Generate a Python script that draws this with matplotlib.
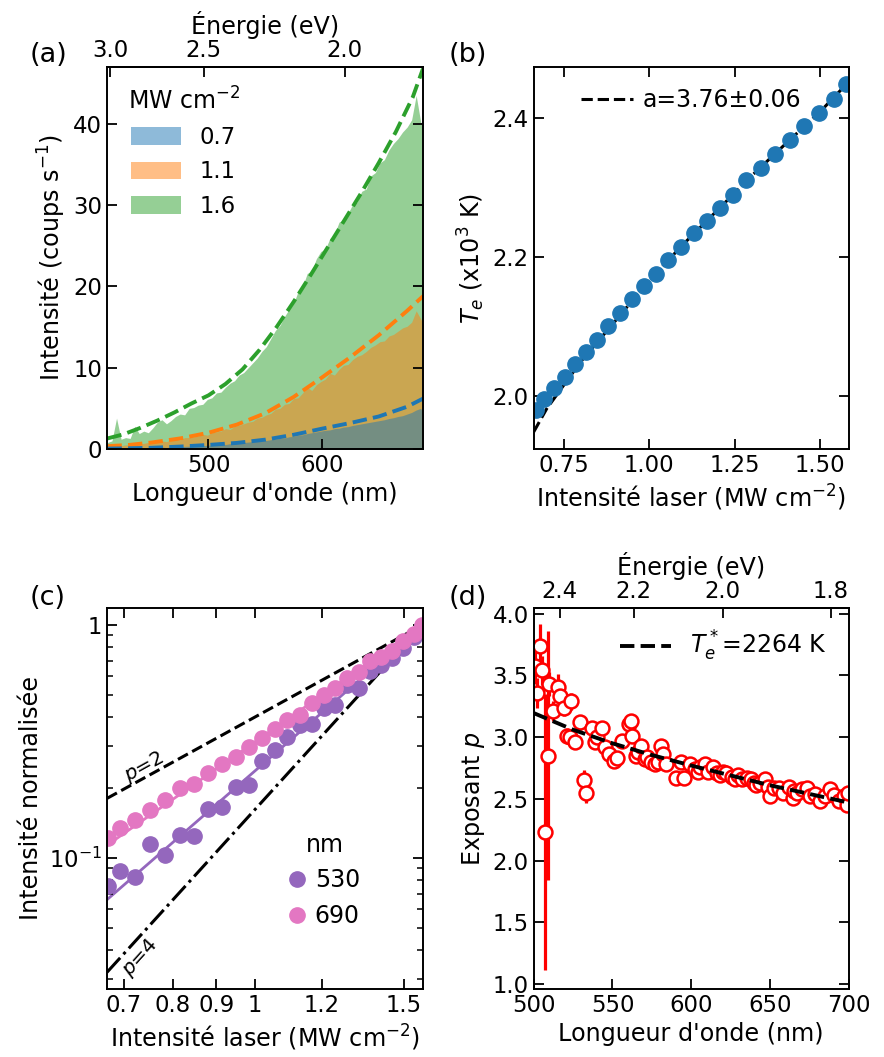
import numpy as np
import matplotlib
matplotlib.use('Agg')
import matplotlib.pyplot as plt
from matplotlib.ticker import NullLocator, NullFormatter, LogLocator, FixedLocator, FixedFormatter
from matplotlib.patches import Patch

plt.rcParams.update({
    'font.family': ['DejaVu Sans'],
    'font.size': 17.2,
    'xtick.labelsize': 16.4, 'ytick.labelsize': 16.4,
    'legend.fontsize': 17,
    'axes.linewidth': 1.4,
    'xtick.direction': 'in', 'ytick.direction': 'in',
    'xtick.major.size': 7, 'ytick.major.size': 7,
    'xtick.major.width': 1.3, 'ytick.major.width': 1.3,
    'xtick.minor.size': 4.5, 'ytick.minor.size': 4.5,
    'xtick.minor.width': 1.1, 'ytick.minor.width': 1.1,
    'legend.frameon': False,
})

HC = 1239.84  # eV nm

# ---------------- (a) spectra ----------------
wl_spec = [411, 415, 419, 423, 427, 431, 435, 439, 443, 447, 451, 455, 459, 463, 467,
           471, 475, 479, 483, 487, 491, 495, 499, 503, 507, 511, 515, 519, 523, 527,
           531, 535, 539, 543, 547, 551, 555, 559, 563, 567, 571, 575, 579, 583, 587,
           591, 595, 599, 603, 607, 611, 615, 619, 623, 627, 631, 635, 639, 643, 647,
           651, 655, 659, 663, 667, 671, 675, 679, 683, 687, 689]
spec_16 = [0.8, 1.0, 3.8, 1.2, 1.4, 1.3, 2.8, 1.9, 2.2, 2.0, 2.6, 3.3, 3.6, 3.1, 3.5,
           4.0, 4.3, 4.2, 5.0, 5.1, 5.4, 5.5, 6.1, 6.3, 6.9, 7.0, 7.6, 8.1, 8.4, 9.1,
           9.4, 10.0, 10.6, 11.2, 12.0, 12.6, 13.6, 14.6, 15.2, 16.3, 17.2, 17.9, 19.4, 20.0, 21.6,
           21.9, 23.4, 24.3, 24.6, 25.9, 26.4, 27.9, 28.2, 29.0, 30.1, 30.4, 31.7, 32.0, 33.6, 34.0,
           35.2, 35.6, 36.8, 37.6, 38.2, 39.0, 39.6, 40.5, 43.5, 40.2, 40.0]
spec_11 = [0.3, 0.4, 0.6, 0.4, 0.5, 0.5, 0.8, 0.6, 0.7, 0.8, 0.7, 0.9, 1.0, 0.9, 1.1,
           1.2, 1.1, 1.4, 1.4, 1.5, 1.6, 1.8, 1.7, 2.0, 2.1, 2.2, 2.5, 2.4, 2.8, 2.9,
           3.1, 3.3, 3.4, 3.8, 3.9, 4.2, 4.4, 4.9, 5.0, 5.5, 5.6, 6.2, 6.3, 6.9, 7.6,
           7.2, 7.9, 8.3, 8.6, 9.3, 9.1, 9.8, 10.3, 10.4, 11.0, 11.4, 11.6, 12.0, 12.5, 12.8,
           13.2, 13.3, 13.9, 14.1, 14.5, 14.9, 15.1, 15.6, 17.0, 16.0, 15.5]
spec_07 = [0.05, 0.08, 0.1, 0.06, 0.1, 0.12, 0.1, 0.15, 0.12, 0.18, 0.15, 0.2, 0.22, 0.18, 0.25,
           0.28, 0.25, 0.32, 0.35, 0.3, 0.4, 0.42, 0.45, 0.5, 0.48, 0.6, 0.55, 0.65, 0.7, 0.68,
           0.8, 0.85, 0.9, 0.95, 1.0, 1.05, 1.15, 1.2, 1.3, 1.35, 1.5, 1.55, 1.7, 1.75, 1.9,
           2.0, 2.1, 2.2, 2.3, 2.35, 2.5, 2.55, 2.7, 2.75, 2.9, 3.0, 3.1, 3.2, 3.3, 3.4,
           3.5, 3.6, 3.75, 3.85, 4.0, 4.1, 4.3, 4.5, 4.8, 5.0, 4.4]

wl_fit16 = [411, 425, 440, 455, 470, 485, 500, 515, 530, 545, 560, 575, 590, 605, 620, 635, 650, 665, 680, 689]
fit_16 = [1.3, 1.8, 2.6, 3.5, 4.5, 5.6, 6.6, 8.0, 9.8, 12.2, 15.0, 18.1, 21.4, 24.8, 28.2, 31.6, 35.2, 39.0, 43.3, 46.8]
wl_fit = [411, 430, 450, 475, 500, 525, 550, 575, 600, 625, 650, 675, 689]
fit_11 = [0.35, 0.5, 0.8, 1.3, 2.0, 3.0, 4.4, 6.4, 8.8, 11.3, 14.0, 17.0, 18.8]
fit_07 = [0.05, 0.09, 0.15, 0.3, 0.5, 0.75, 1.15, 1.75, 2.5, 3.2, 4.0, 5.2, 6.2]
power_labels = ['0.7', '1.1', '1.6']

# ---------------- (b) electron temperature ----------------
I_laser = [0.670, 0.6935, 0.7227, 0.7529, 0.7841, 0.8153, 0.8474, 0.8805, 0.9136, 0.9487,
           0.9838, 1.0188, 1.0558, 1.0919, 1.1308, 1.1688, 1.2068, 1.2448, 1.2837, 1.3256,
           1.3665, 1.4103, 1.4532, 1.4961, 1.5389, 1.5750]
T_e = [1.980, 1.9966, 2.012, 2.0278, 2.0461, 2.0639, 2.0816, 2.1013, 2.1205, 2.1402,
       2.1589, 2.1762, 2.1964, 2.2151, 2.2343, 2.2525, 2.2717, 2.2904, 2.3106, 2.3288,
       2.3494, 2.3686, 2.3888, 2.4080, 2.4286, 2.4493]
I_fit = [0.662, 0.70, 0.75, 0.80, 0.90, 1.00, 1.10, 1.20, 1.30, 1.40, 1.50, 1.583]
T_fit = [1.9486, 1.982, 2.016, 2.050, 2.108, 2.1669, 2.2191, 2.2682, 2.3177, 2.3641, 2.4099, 2.4527]

# ---------------- (c) normalised intensity ----------------
norm_530 = [0.0758, 0.0873, 0.0823, 0.1149, 0.1030, 0.1255, 0.1235, 0.1622, 0.1644, 0.201,
            0.2056, 0.2588, 0.291, 0.330, 0.370, 0.375, 0.439, 0.454, 0.550, 0.535,
            0.631, 0.673, 0.719, 0.794, 0.883, 0.985]
norm_690 = [0.1214, 0.134, 0.1455, 0.1596, 0.1773, 0.199, 0.208, 0.2309, 0.2522, 0.2697,
            0.2975, 0.3266, 0.3566, 0.391, 0.411, 0.461, 0.497, 0.535, 0.590, 0.627,
            0.701, 0.724, 0.774, 0.854, 0.912, 1.0]
I_ends = [0.669, 1.579]
fitline_530 = [0.066, 1.0]
fitline_690 = [0.113, 1.0]
ref_p2 = [0.1796, 1.0]
ref_p4 = [0.0322, 1.0]

# ---------------- (d) exponent p ----------------
wl_p = [501.0, 502.0, 503.8, 505.3, 507.0, 508.8, 509.5, 512.3, 515.2, 516.9, 519.0, 521.2,
        523.3, 523.7, 526.5, 529.6, 531.7, 533.4, 537.0, 539.0, 540.2, 543.4, 545.5, 547.6,
        550.8, 553.0, 556.0, 560.5, 561.8, 562.4, 565.2, 566.0, 568.4, 570.5, 572.0, 574.7,
        576.9, 579.0, 581.1, 582.2, 584.2, 590.5, 593.5, 595.5, 599.5, 602.2, 604.0, 605.4,
        608.6, 610.7, 613.9, 616.4, 618.2, 620.0, 622.4, 625.6, 627.7, 629.5, 632.3, 635.4,
        638.2, 640.0, 641.2, 643.9, 646.7, 648.5, 650.3, 652.4, 655.6, 658.1, 661.9, 664.4,
        665.5, 667.2, 670.4, 673.5, 675.7, 678.8, 682.0, 685.2, 687.9, 690.5, 693.7, 696.8,
        698.9, 699.6]
p_exp = [3.58, 3.36, 3.74, 3.54, 2.23, 2.85, 3.43, 3.21, 3.41, 3.33, 3.24, 3.01,
         3.00, 3.29, 2.96, 3.12, 2.65, 2.55, 3.07, 2.96, 3.00, 3.07, 2.92, 2.86,
         2.81, 2.83, 2.97, 3.11, 3.13, 3.01, 2.85, 2.88, 2.93, 2.82, 2.84, 2.80,
         2.78, 2.80, 2.93, 2.86, 2.78, 2.67, 2.80, 2.67, 2.78, 2.74, 2.72, 2.76,
         2.78, 2.72, 2.76, 2.71, 2.69, 2.72, 2.71, 2.68, 2.66, 2.69, 2.66, 2.67,
         2.66, 2.63, 2.61, 2.63, 2.66, 2.60, 2.52, 2.59, 2.59, 2.55, 2.60, 2.51,
         2.56, 2.55, 2.58, 2.59, 2.52, 2.54, 2.48, 2.52, 2.58, 2.53, 2.48, 2.52,
         2.45, 2.55]
p_err = [0.15, 0.12, 0.18, 0.12, 1.12, 1.01, 0.10, 0.08, 0.10, 0.08, 0.07, 0.06,
         0.06, 0.07, 0.06, 0.06, 0.08, 0.08, 0.05, 0.05, 0.05, 0.05, 0.05, 0.05,
         0.05, 0.05, 0.05, 0.05, 0.05, 0.05, 0.04, 0.04, 0.04, 0.04, 0.04, 0.04,
         0.04, 0.04, 0.04, 0.04, 0.04, 0.04, 0.04, 0.04, 0.04, 0.03, 0.03, 0.03,
         0.03, 0.03, 0.03, 0.03, 0.03, 0.03, 0.03, 0.03, 0.03, 0.03, 0.03, 0.03,
         0.03, 0.03, 0.03, 0.03, 0.03, 0.03, 0.03, 0.03, 0.03, 0.03, 0.03, 0.03,
         0.03, 0.03, 0.03, 0.03, 0.03, 0.03, 0.03, 0.03, 0.03, 0.03, 0.03, 0.03,
         0.03, 0.03]
wl_theo = [500, 525, 550, 575, 600, 625, 650, 675, 700]
p_theo = [3.195, 3.06, 2.95, 2.855, 2.77, 2.69, 2.61, 2.54, 2.47]


def wl2ev(x):
    x = np.asarray(x, dtype=float)
    with np.errstate(divide='ignore', invalid='ignore'):
        return HC / x


fig = plt.figure(figsize=(8.84, 10.57), dpi=100)
W, H = 884.0, 1057.0
ax_a = fig.add_axes([107 / W, 1 - 449 / H, 316 / W, 382 / H])
ax_b = fig.add_axes([533.7 / W, 1 - 449 / H, 315 / W, 382 / H])
ax_c = fig.add_axes([107 / W, 1 - 989 / H, 316 / W, 381 / H])
ax_d = fig.add_axes([533.7 / W, 1 - 989 / H, 315 / W, 381 / H])

c_blue, c_orange, c_green = '#1f77b4', '#ff7f0e', '#2ca02c'

# (a)
ax = ax_a
ax.fill_between(wl_spec, 0, spec_16, color=c_green, alpha=0.5, lw=0)
ax.fill_between(wl_spec, 0, spec_11, color=c_orange, alpha=0.5, lw=0)
ax.fill_between(wl_spec, 0, spec_07, color=c_blue, alpha=0.5, lw=0)
ax.plot(wl_fit16, fit_16, '--', color=c_green, lw=2.8)
ax.plot(wl_fit, fit_11, '--', color=c_orange, lw=2.8)
ax.plot(wl_fit, fit_07, '--', color=c_blue, lw=2.8)
ax.set_xlim(410.6, 689)
ax.set_ylim(0, 47)
ax.set_xticks([500, 600])
ax.set_yticks([0, 10, 20, 30, 40])
ax.tick_params(top=False, right=True)
ax.set_xlabel("Longueur d'onde (nm)")
ax.set_ylabel('Intensité (coups s$^{-1}$)')
handles = [Patch(facecolor=c, alpha=0.5, edgecolor='none', label=l)
           for c, l in zip([c_blue, c_orange, c_green], power_labels)]
ax.legend(handles=handles, title='MW cm$^{-2}$', loc='upper left', fontsize=16.4,
          title_fontsize=17, handlelength=2.2, handleheight=0.8)
sec = ax.secondary_xaxis('top', functions=(wl2ev, wl2ev))
sec.set_xticks([3.0, 2.5, 2.0])
sec.set_xticklabels(['3.0', '2.5', '2.0'])
sec.xaxis.set_minor_locator(NullLocator())
sec.tick_params(direction='in', length=7, width=1.3)
sec.set_xlabel('Énergie (eV)')

# (b)
ax = ax_b
ax.plot(I_fit, T_fit, '--', color='k', lw=2.2, label='a=3.76±0.06', zorder=1)
ax.plot(I_laser, T_e, 'o', color=c_blue, ms=11, zorder=2)
ax.set_xlim(0.662, 1.583)
ax.set_ylim(1.924, 2.474)
ax.set_xticks([0.75, 1.00, 1.25, 1.50])
ax.set_xticklabels(['0.75', '1.00', '1.25', '1.50'])
ax.set_yticks([2.0, 2.2, 2.4])
ax.set_yticklabels(['2.0', '2.2', '2.4'])
ax.tick_params(top=True, right=True)
ax.set_xlabel('Intensité laser (MW cm$^{-2}$)')
ax.set_ylabel('$T_e$ (x10$^3$ K)')
ax.legend(loc='upper center', handlelength=2.2, handletextpad=0.4)

# (c)
ax = ax_c
ax.set_xscale('log')
ax.set_yscale('log')
ax.plot(I_ends, ref_p2, '--', color='k', lw=2.2, zorder=1)
ax.plot(I_ends, ref_p4, '-.', color='k', lw=2.2, zorder=1)
ax.plot(I_ends, fitline_530, '-', color='#9467bd', lw=2, zorder=1)
ax.plot(I_ends, fitline_690, '-', color='#e377c2', lw=2, zorder=1)
l530, = ax.plot(I_laser, norm_530, 'o', color='#9467bd', ms=11, zorder=2, label='530')
l690, = ax.plot(I_laser, norm_690, 'o', color='#e377c2', ms=11, zorder=2, label='690')
ax.set_xlim(0.669, 1.579)
ax.set_ylim(0.0273, 1.179)
ax.xaxis.set_major_locator(FixedLocator([0.7, 0.8, 0.9, 1.0, 1.2, 1.5]))
ax.xaxis.set_major_formatter(FixedFormatter(['0.7', '0.8', '0.9', '1', '1.2', '1.5']))
ax.xaxis.set_minor_locator(NullLocator())
ax.xaxis.set_minor_formatter(NullFormatter())
ax.yaxis.set_major_locator(FixedLocator([0.1, 1.0]))
ax.yaxis.set_major_formatter(FixedFormatter(['$10^{-1}$', '1']))
ax.yaxis.set_minor_locator(LogLocator(base=10, subs=np.arange(2, 10)))
ax.yaxis.set_minor_formatter(NullFormatter())
ax.tick_params(which='both', top=True, right=True)
ax.set_xlabel('Intensité laser (MW cm$^{-2}$)')
ax.set_ylabel('Intensité normalisée')
ax.text(0.740, 0.246, '$p$=2', rotation=29, ha='center', va='center', fontsize=14.5,
        rotation_mode='anchor')
ax.text(0.733, 0.0372, '$p$=4', rotation=48, ha='center', va='center', fontsize=14.5,
        rotation_mode='anchor')
ax.legend(handles=[l530, l690], title='nm', loc='center', bbox_to_anchor=(0.69, 0.285),
          title_fontsize=17, handlelength=0.6, handletextpad=0.45)

# (d)
ax = ax_d
ax.errorbar(wl_p, p_exp, yerr=p_err, fmt='o', mfc='white', mec='red', ecolor='red',
            color='red', ms=10, mew=1.8, elinewidth=2.3, capsize=0, zorder=2)
ln, = ax.plot(wl_theo, p_theo, '--', color='k', lw=2.8, zorder=3, label='$T_e^*$=2264 K')
ax.set_xlim(500, 700)
ax.set_ylim(0.96, 4.046)
ax.set_xticks([500, 550, 600, 650, 700])
ax.set_yticks([1.0, 1.5, 2.0, 2.5, 3.0, 3.5, 4.0])
ax.set_yticklabels(['1.0', '1.5', '2.0', '2.5', '3.0', '3.5', '4.0'])
ax.tick_params(top=False, right=True)
ax.set_xlabel("Longueur d'onde (nm)")
ax.set_ylabel('Exposant $p$')
ax.legend(handles=[ln], loc='upper right', handlelength=2.2)
sec = ax.secondary_xaxis('top', functions=(wl2ev, wl2ev))
sec.set_xticks([2.4, 2.2, 2.0, 1.8])
sec.set_xticklabels(['2.4', '2.2', '2.0', '1.8'])
sec.xaxis.set_minor_locator(NullLocator())
sec.tick_params(direction='in', length=7, width=1.3)
sec.set_xlabel('Énergie (eV)')

for lab, x, y in [('(a)', 30, 62), ('(b)', 449, 62), ('(c)', 30, 605), ('(d)', 449, 605)]:
    fig.text(x / W, 1 - y / H, lab, fontsize=19.5, va='baseline', ha='left')

fig.savefig('out.png', dpi=100)
